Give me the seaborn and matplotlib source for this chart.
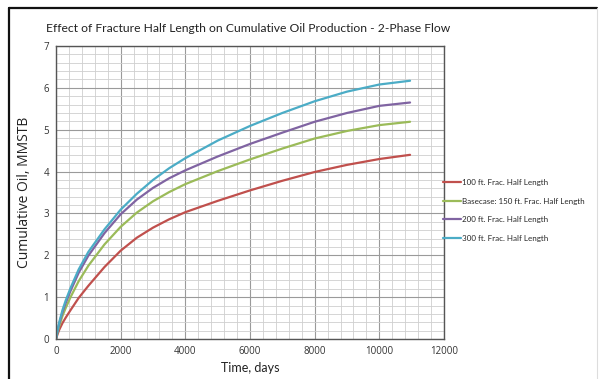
import matplotlib
matplotlib.use("Agg")
import matplotlib.pyplot as plt
from matplotlib.lines import Line2D
from matplotlib.ticker import MultipleLocator
import pandas as pd
import seaborn as sns

# Time axis (days) and cumulative oil (MMSTB) for each fracture half length
days = [0, 50, 100, 200, 300, 450, 700, 1000, 1500, 2000, 2500, 3000, 3500,
        4000, 5000, 6000, 7000, 8000, 9000, 10000, 10950]
oil_100ft = [0, 0.12, 0.22, 0.38, 0.51, 0.69, 0.98, 1.27, 1.72, 2.11, 2.42, 2.66, 2.86,
             3.03, 3.30, 3.55, 3.78, 3.99, 4.16, 4.30, 4.40]
oil_150ft = [0, 0.17, 0.31, 0.55, 0.74, 1.00, 1.38, 1.75, 2.26, 2.68, 3.02, 3.29, 3.51,
             3.70, 4.01, 4.29, 4.55, 4.79, 4.97, 5.11, 5.19]
oil_200ft = [0, 0.20, 0.37, 0.64, 0.86, 1.15, 1.58, 1.99, 2.53, 2.98, 3.33, 3.61, 3.84,
             4.03, 4.36, 4.66, 4.93, 5.19, 5.40, 5.57, 5.65]
oil_300ft = [0, 0.22, 0.40, 0.69, 0.92, 1.22, 1.66, 2.08, 2.62, 3.09, 3.47, 3.80, 4.08,
             4.32, 4.74, 5.09, 5.40, 5.68, 5.91, 6.08, 6.17]

series_names = [
    "100 ft. Frac. Half Length",
    "Basecase: 150 ft. Frac. Half Length",
    "200 ft. Frac. Half Length",
    "300 ft. Frac. Half Length",
]
series_values = [oil_100ft, oil_150ft, oil_200ft, oil_300ft]
colors = ["#C0504D", "#9BBB59", "#8064A2", "#4BACC6"]

frames = []
for name, vals in zip(series_names, series_values):
    frames.append(pd.DataFrame({"Time": days, "Oil": vals, "Case": name}))
df = pd.concat(frames, ignore_index=True)

sns.set_style("white")
plt.rcParams["font.family"] = ["Open Sans", "DejaVu Sans"]
narrow = ["Lato", "DejaVu Sans"]

fig = plt.figure(figsize=(6.01, 3.79), dpi=100)
ax = fig.add_axes([56 / 601, 40 / 379, (444 - 56) / 601, (339 - 46) / 379])

sns.lineplot(data=df, x="Time", y="Oil", hue="Case", palette=colors,
             hue_order=series_names, linewidth=1.6, ax=ax, legend=False)

ax.set_xlim(0, 12000)
ax.set_ylim(0, 7)
ax.xaxis.set_major_locator(MultipleLocator(2000))
ax.xaxis.set_minor_locator(MultipleLocator(400))
ax.yaxis.set_major_locator(MultipleLocator(1))
ax.yaxis.set_minor_locator(MultipleLocator(0.2))
ax.grid(which="major", color="#9a9a9a", linewidth=0.8)
ax.grid(which="minor", color="#cfcfcf", linewidth=0.6)
ax.set_axisbelow(True)
for sp in ax.spines.values():
    sp.set_color("#555555")
    sp.set_linewidth(1.0)

ax.tick_params(axis="both", which="major", labelsize=7, colors="#333333",
               length=0, pad=5)
ax.tick_params(axis="both", which="minor", length=0)

ax.set_xlabel("Time, days", fontsize=9, color="#222222", labelpad=4,
              family=narrow)
ax.set_ylabel("Cumulative Oil, MMSTB", fontsize=10, color="#222222", labelpad=8)

fig.text(248 / 601, 1 - 28 / 379,
         "Effect of Fracture Half Length on Cumulative Oil Production - 2-Phase Flow",
         ha="center", va="center", fontsize=8.7, color="#222222", family=narrow)

handles = [Line2D([0], [0], color=c, linewidth=1.6) for c in colors]
leg = ax.legend(handles, series_names, loc="center left",
                bbox_to_anchor=(0.997, 0.439), frameon=False,
                prop={"family": narrow, "size": 5.8},
                handlelength=2.2, handletextpad=0.15, labelspacing=1.42,
                borderpad=0.0, borderaxespad=0.0)

# page frame around the chart
fig.add_artist(Line2D([9 / 601, 597 / 601], [1 - 8 / 379, 1 - 8 / 379],
                      transform=fig.transFigure, color="#111111", linewidth=1.6))
fig.add_artist(Line2D([9 / 601, 9 / 601], [0, 1 - 8 / 379],
                      transform=fig.transFigure, color="#111111", linewidth=1.6))
fig.add_artist(Line2D([597 / 601, 597 / 601], [0, 1 - 8 / 379],
                      transform=fig.transFigure, color="#dddddd", linewidth=0.8))

fig.savefig("out.png", dpi=100)
